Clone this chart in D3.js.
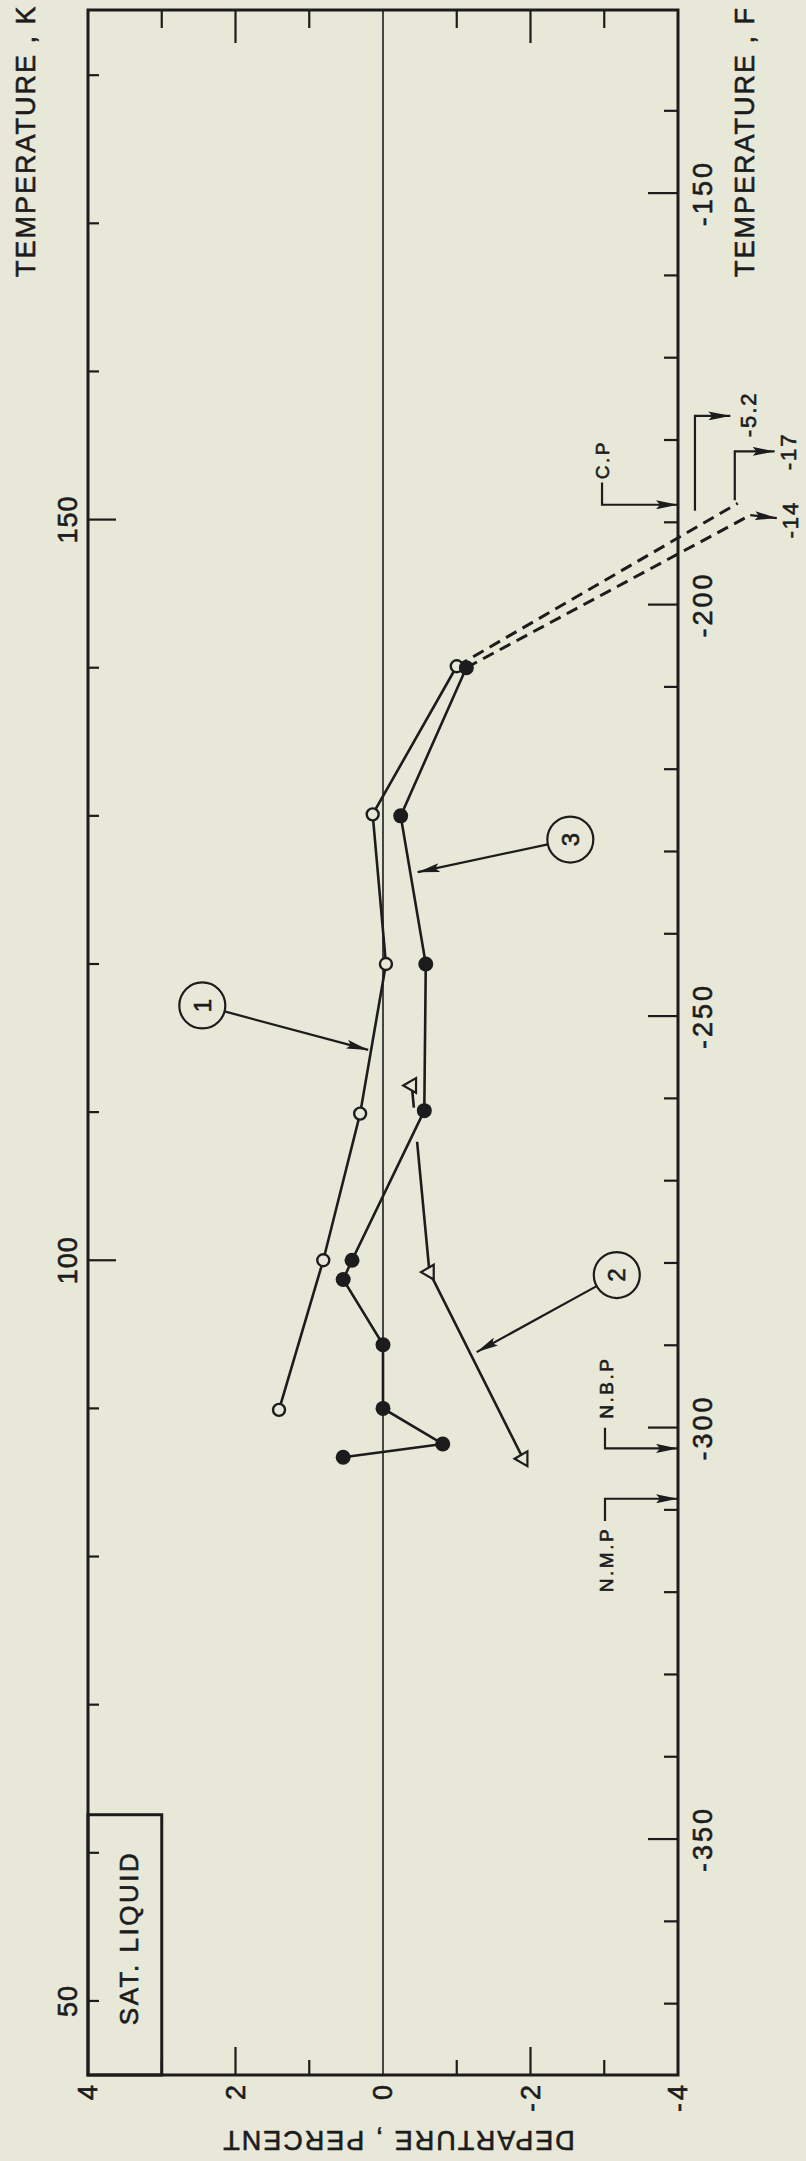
<!DOCTYPE html>
<html>
<head>
<meta charset="utf-8">
<script src="https://cdnjs.cloudflare.com/ajax/libs/d3/7.8.5/d3.min.js"></script>
<style>
  body { margin: 0; background: #e8e8d9; }
  svg { display: block; }
  text { font-family: "Liberation Sans", Arial, sans-serif; fill: #1c1c1c; stroke: #1c1c1c; stroke-width: 0.6px; }
</style>
</head>
<body>
<div id="chart"></div>
<script>
// values: [temperature K, departure %]
const openCircles = [[89.9, 1.41], [100, 0.81], [109.9, 0.31], [120, -0.04], [130.1, 0.14], [140.1, -1.0]];
const filledCircles = [[86.7, 0.54], [87.6, -0.81], [90, 0], [94.3, 0], [98.7, 0.54], [100, 0.42],
                       [110.1, -0.56], [120, -0.58], [130, -0.24], [140, -1.13]];
const triangles = [[86.6, -1.90], [99.2, -0.63], [111.8, -0.39]];
const triangleGap = [108.0, 110.3];   // line 2 broken where it crosses line 3

// dashed extrapolation toward the critical point
const dashOpen = [[140.1, -1.0], [151.1, -4.81]];
const dashFilled = [[140, -1.13], [150.3, -4.98]];

// tick labels
const kLabels = [50, 100, 150];
const fLabels = [-350, -300, -250, -200, -150];
const depLabels = [4, 2, 0, -2, -4];

// brackets / arrows [K, departure]
const cpBracket = [[152.5, -2.97], [151.0, -2.97], [151.0, -4]];
const nbpBracket = [[88.7, -3.01], [87.3, -3.01], [87.3, -4]];
const nmpBracket = [[82.4, -3.01], [83.9, -3.01], [83.9, -4]];
const bracket52 = [[150.6, -4.23], [157.0, -4.23], [157.0, -4.71]];
const bracket17 = [[151.3, -4.77], [154.6, -4.77], [154.6, -5.31]];
const arrow14 = [[150.3, -4.98], [150.1, -5.34]];

const pointLabels = [
  {text: 'C.P', k: 154.05, d: -2.98},
  {text: 'N.B.P', k: 91.4, d: -3.03},
  {text: 'N.M.P', k: 79.8, d: -3.03}
];
const offScaleLabels = [
  {text: '-5.2', k: 157.1, d: -4.95},
  {text: '-17', k: 154.6, d: -5.49},
  {text: '-14', k: 150.0, d: -5.52}
];
const curveTags = [
  {text: '1', k: 117.2, d: 2.45, tip: [114.2, 0.20]},
  {text: '2', k: 99.0, d: -3.17, tip: [93.8, -1.27]},
  {text: '3', k: 128.4, d: -2.54, tip: [126.2, -0.47]}
];

const width = 806, height = 2161;
const INK = '#1c1c1c', PAPER = '#e8e8d9';

const svg = d3.select('#chart')
  .append('svg')
    .attr('width', width)
    .attr('height', height);

svg.append('rect')
  .attr('width', width)
  .attr('height', height)
  .attr('fill', PAPER);

// chart is printed turned: temperature runs up the page, departure runs right-to-left
const xD = d3.scaleLinear().domain([4, -4]).range([88, 678]);
const yK = d3.scaleLinear().domain([45, 184.4]).range([2075, 10]);
const fToK = f => (f + 459.67) / 1.8;

svg.append('defs').append('marker')
    .attr('id', 'arrow')
    .attr('viewBox', '0 0 22 9')
    .attr('refX', 22)
    .attr('refY', 4.5)
    .attr('markerWidth', 22)
    .attr('markerHeight', 9)
    .attr('markerUnits', 'userSpaceOnUse')
    .attr('orient', 'auto')
  .append('path')
    .attr('d', 'M0,0 L22,4.5 L0,9 L4,4.5 z')
    .attr('fill', INK);

const line = d3.line().x(p => xD(p[1])).y(p => yK(p[0]));

// frame
const [x0, x1] = xD.range();
const [y1, y0] = yK.range();
svg.append('rect')
  .attr('x', x0).attr('y', y0)
  .attr('width', x1 - x0).attr('height', y1 - y0)
  .attr('fill', 'none')
  .attr('stroke', INK)
  .attr('stroke-width', 3);

// zero line
svg.append('line')
  .attr('x1', xD(0)).attr('x2', xD(0))
  .attr('y1', y0).attr('y2', y1)
  .attr('stroke', INK).attr('stroke-width', 1.6);

// departure ticks, top and bottom
const depTicks = [3, 2, 1, -1, -2, -3];
depTicks.forEach(d => {
  const big = Math.abs(d) == 2;
  svg.append('line')
    .attr('x1', xD(d)).attr('x2', xD(d))
    .attr('y1', y0).attr('y2', y0 + (big ? 33 : 18))
    .attr('stroke', INK).attr('stroke-width', 2.2);
  svg.append('line')
    .attr('x1', xD(d)).attr('x2', xD(d))
    .attr('y1', y1).attr('y2', y1 - (big ? 28 : 15))
    .attr('stroke', INK).attr('stroke-width', 2.2);
});

// temperature K ticks (left)
d3.range(50, 190, 10).forEach(k => {
  const big = k == 100 || k == 150;
  svg.append('line')
    .attr('x1', x0).attr('x2', x0 + (big ? 28 : 11))
    .attr('y1', yK(k)).attr('y2', yK(k))
    .attr('stroke', INK).attr('stroke-width', 2.2);
});

// temperature F ticks (right)
d3.range(-370, -130, 10).forEach(f => {
  const big = f % 50 == 0;
  svg.append('line')
    .attr('x1', x1).attr('x2', x1 - (big ? 30 : 14))
    .attr('y1', yK(fToK(f))).attr('y2', yK(fToK(f)))
    .attr('stroke', INK).attr('stroke-width', 2.2);
});

function vText(x, y, str, size, anchor, spacing) {
  return svg.append('text')
    .attr('transform', 'translate(' + x + ',' + y + ') rotate(-90)')
    .attr('text-anchor', anchor)
    .attr('dy', '0.35em')
    .style('font-size', size + 'px')
    .style('letter-spacing', (spacing || 0) + 'px')
    .text(str);
}

kLabels.forEach(k => vText(68, yK(k), k, 27, 'middle', 1));
fLabels.forEach(f => vText(703, yK(fToK(f)), f, 27, 'middle', 3));
depLabels.forEach(d => vText(xD(d), 2082, d, 27, 'end', 3));

// axis titles
vText(26, 277, 'TEMPERATURE , K', 27, 'start', 2);
vText(745, 277, 'TEMPERATURE , F', 27, 'start', 2);
svg.append('text')
  .attr('transform', 'translate(398,2140) rotate(180)')
  .attr('text-anchor', 'middle')
  .attr('dy', '0.35em')
  .style('font-size', '27px')
  .style('letter-spacing', '2px')
  .text('DEPARTURE , PERCENT');

// SAT. LIQUID box
svg.append('rect')
  .attr('x', x0).attr('y', yK(62.57))
  .attr('width', xD(3) - x0).attr('height', y1 - yK(62.57))
  .attr('fill', 'none')
  .attr('stroke', INK).attr('stroke-width', 3);
vText(129, 1938, 'SAT. LIQUID', 26, 'middle', 2.5);

// series lines
svg.append('path').attr('d', line(openCircles))
  .attr('fill', 'none').attr('stroke', INK).attr('stroke-width', 2.6);
svg.append('path').attr('d', line(filledCircles))
  .attr('fill', 'none').attr('stroke', INK).attr('stroke-width', 2.6);

// triangle line, with the break near line 3
const along = (a, b, k) => [k, a[1] + (b[1] - a[1]) * (k - a[0]) / (b[0] - a[0])];
const triPieces = [
  [triangles[0], triangles[1], along(triangles[1], triangles[2], triangleGap[0])],
  [along(triangles[1], triangles[2], triangleGap[1]), triangles[2]]
];
triPieces.forEach(piece => {
  svg.append('path').attr('d', line(piece))
    .attr('fill', 'none').attr('stroke', INK).attr('stroke-width', 2.6);
});

[dashOpen, dashFilled].forEach(seg => {
  svg.append('path').attr('d', line(seg))
    .attr('fill', 'none').attr('stroke', INK)
    .attr('stroke-width', 3)
    .attr('stroke-dasharray', '12,7');
});

// brackets and arrows
[cpBracket, nbpBracket, nmpBracket, bracket52, bracket17, arrow14].forEach(seg => {
  svg.append('path').attr('d', line(seg))
    .attr('fill', 'none').attr('stroke', INK)
    .attr('stroke-width', 2.2)
    .attr('marker-end', 'url(#arrow)');
});

pointLabels.forEach(l => vText(xD(l.d), yK(l.k), l.text, 19, 'middle', 2.5));
offScaleLabels.forEach(l => vText(xD(l.d), yK(l.k), l.text, 22, 'middle', 2));

// circled curve numbers with pointer arrows
curveTags.forEach(t => {
  const cx = xD(t.d), cy = yK(t.k), r = 23;
  const tx = xD(t.tip[1]), ty = yK(t.tip[0]);
  const len = Math.hypot(tx - cx, ty - cy);
  svg.append('line')
    .attr('x1', cx + (tx - cx) / len * r).attr('y1', cy + (ty - cy) / len * r)
    .attr('x2', tx).attr('y2', ty)
    .attr('stroke', INK).attr('stroke-width', 2.2)
    .attr('marker-end', 'url(#arrow)');
  svg.append('circle')
    .attr('cx', cx).attr('cy', cy).attr('r', r)
    .attr('fill', 'none').attr('stroke', INK).attr('stroke-width', 2.2);
  vText(cx, cy, t.text, 24, 'middle', 0);
});

// markers
svg.selectAll('.open')
  .data(openCircles)
  .enter()
  .append('circle')
    .attr('cx', p => xD(p[1]))
    .attr('cy', p => yK(p[0]))
    .attr('r', 6)
    .attr('fill', PAPER)
    .attr('stroke', INK)
    .attr('stroke-width', 2.4);

svg.selectAll('.filled')
  .data(filledCircles)
  .enter()
  .append('circle')
    .attr('cx', p => xD(p[1]))
    .attr('cy', p => yK(p[0]))
    .attr('r', 7.5)
    .attr('fill', INK);

const tri = d3.symbol().type(d3.symbolTriangle).size(95);
svg.selectAll('.tri')
  .data(triangles)
  .enter()
  .append('path')
    .attr('d', tri)
    .attr('transform', p => 'translate(' + xD(p[1]) + ',' + yK(p[0]) + ') rotate(-90)')
    .attr('fill', PAPER)
    .attr('stroke', INK)
    .attr('stroke-width', 2.2);
</script>
</body>
</html>
